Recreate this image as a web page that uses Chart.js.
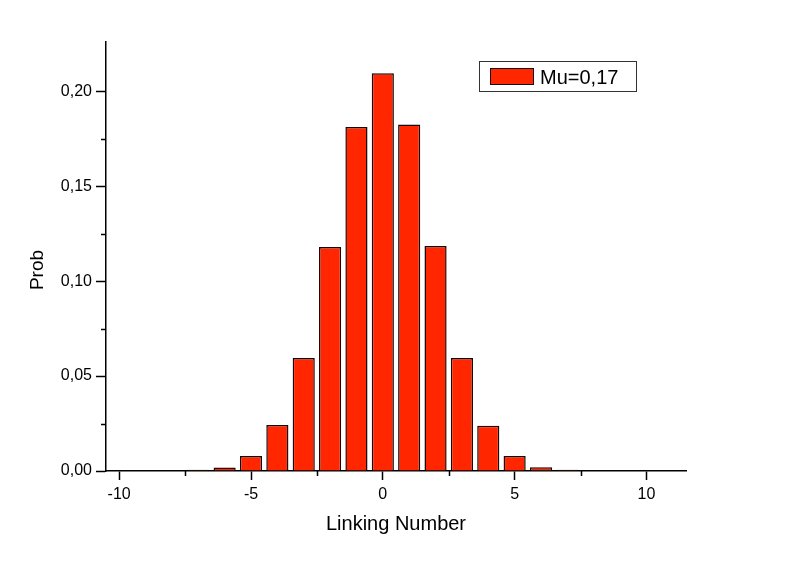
<!DOCTYPE html>
<html lang="en">
<head>
    <meta charset="UTF-8">
    <title>Linking Number distribution</title>
    <script src="https://cdn.jsdelivr.net/npm/chart.js"></script>
    <style>
        html, body { margin: 0; padding: 0; background: #fff; }
        #wrap { width: 789px; height: 564px; }
    </style>
</head>
<body>
    <div id="wrap"><canvas id="linkChart" width="789" height="564"></canvas></div>

    <script>
        // data
        const linkingNumbers = [-8, -7, -6, -5, -4, -3, -2, -1, 0, 1, 2, 3, 4, 5, 6, 7, 8];
        const probValues = [0.0002, 0.0006, 0.0019, 0.0079, 0.0242, 0.0595, 0.1180, 0.1812, 0.2096,
                            0.1826, 0.1185, 0.0595, 0.0238, 0.0079, 0.0020, 0.0006, 0.0002];
        const seriesLabel = 'Mu=0,17';
        const xTitle = 'Linking Number';
        const yTitle = 'Prob';
        const xMinorTicks = [-7.5, -2.5, 2.5, 7.5];
        const yMinorTicks = [0.025, 0.075, 0.125, 0.175];

        const barRed = '#ff2600';
        const fontFamily = "'Liberation Sans', Arial, sans-serif";

        const fmtComma = v => v.toFixed(2).replace('.', ',');

        // minor ticks, y title (sits a bit below centre) and boxed legend, Origin style
        const originExtras = {
            id: 'originExtras',
            afterDraw(chart) {
                const ctx = chart.ctx;
                const xs = chart.scales.x, ys = chart.scales.y;
                const area = chart.chartArea;
                ctx.save();
                ctx.strokeStyle = '#000';
                ctx.lineWidth = 1.5;
                ctx.beginPath();
                xMinorTicks.forEach(v => {
                    const px = Math.round(xs.getPixelForValue(v)) + 0.5;
                    ctx.moveTo(px, area.bottom);
                    ctx.lineTo(px, area.bottom + 5);
                });
                yMinorTicks.forEach(v => {
                    const py = Math.round(ys.getPixelForValue(v)) + 0.5;
                    ctx.moveTo(area.left, py);
                    ctx.lineTo(area.left - 5, py);
                });
                ctx.stroke();

                // y axis title
                ctx.save();
                ctx.translate(38, 270);
                ctx.rotate(-Math.PI / 2);
                ctx.fillStyle = '#000';
                ctx.font = '19px ' + fontFamily;
                ctx.textAlign = 'center';
                ctx.textBaseline = 'middle';
                ctx.fillText(yTitle, 0, 0);
                ctx.restore();

                // legend box
                ctx.lineWidth = 1;
                ctx.strokeStyle = '#333';
                ctx.strokeRect(479.5, 61.5, 157, 30);
                ctx.fillStyle = barRed;
                ctx.fillRect(490, 68, 44, 17);
                ctx.strokeStyle = '#111';
                ctx.strokeRect(490.5, 68.5, 43, 16);
                ctx.fillStyle = '#000';
                ctx.font = '20px ' + fontFamily;
                ctx.textBaseline = 'alphabetic';
                ctx.textAlign = 'left';
                ctx.fillText(chart.data.datasets[0].label, 540, 84);
                ctx.restore();
            }
        };

        function createChart() {
            const ctx = document.getElementById('linkChart').getContext('2d');

            new Chart(ctx, {
                type: 'bar',
                data: {
                    datasets: [{
                        label: seriesLabel,
                        data: linkingNumbers.map((x, i) => ({ x: x, y: probValues[i] })),
                        backgroundColor: barRed,
                        borderColor: '#1a0500',
                        borderWidth: 1.5,
                        borderSkipped: 'bottom',
                        categoryPercentage: 1.0,
                        barPercentage: 0.84
                    }]
                },
                options: {
                    responsive: false,
                    animation: false,
                    layout: { padding: { left: 0, top: 42, right: 103, bottom: 0 } },
                    plugins: {
                        legend: { display: false },
                        tooltip: { enabled: false }
                    },
                    scales: {
                        x: {
                            type: 'linear',
                            min: -10.5,
                            max: 11.5,
                            offset: false,
                            afterFit: s => { s.height = 93; },
                            grid: {
                                offset: false,
                                drawOnChartArea: false,
                                drawTicks: true,
                                tickLength: 9,
                                tickColor: '#000',
                                tickWidth: 1.5
                            },
                            border: { display: true, color: '#000', width: 1.5 },
                            ticks: {
                                stepSize: 5,
                                includeBounds: false,
                                padding: 5,
                                color: '#000',
                                font: { family: fontFamily, size: 16 },
                                callback: v => String(v)
                            },
                            title: {
                                display: true,
                                text: xTitle,
                                color: '#000',
                                font: { family: fontFamily, size: 20 },
                                padding: { top: 0, bottom: 28 }
                            }
                        },
                        y: {
                            min: 0,
                            max: 0.226,
                            afterFit: s => { s.width = 106; },
                            grid: {
                                drawOnChartArea: false,
                                drawTicks: true,
                                tickLength: 10,
                                tickColor: '#000',
                                tickWidth: 1.5
                            },
                            border: { display: true, color: '#000', width: 1.5 },
                            ticks: {
                                stepSize: 0.05,
                                includeBounds: false,
                                padding: 4,
                                color: '#000',
                                font: { family: fontFamily, size: 16 },
                                callback: v => fmtComma(v)
                            },
                            title: { display: false }
                        }
                    }
                },
                plugins: [originExtras]
            });
        }

        createChart();
    </script>
</body>
</html>
